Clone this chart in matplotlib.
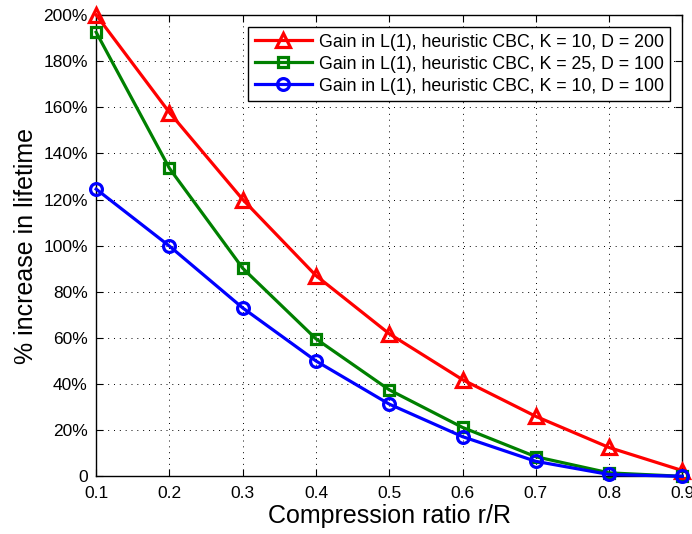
import matplotlib
matplotlib.use("Agg")
import matplotlib.pyplot as plt
from matplotlib.ticker import FuncFormatter

ratio = [0.1, 0.2, 0.3, 0.4, 0.5, 0.6, 0.7, 0.8, 0.9]
gain_k10_d200 = [200, 157.7, 120, 87, 61.8, 41.9, 26, 12.5, 2.5]
gain_k25_d100 = [192.5, 133.5, 90.2, 59.6, 37.5, 21.2, 8.5, 1.5, 0]
gain_k10_d100 = [124.5, 99.8, 73, 50, 31.3, 17.2, 6.5, 0.8, 0]

labels = ["Gain in L(1), heuristic CBC, K = 10, D = 200",
          "Gain in L(1), heuristic CBC, K = 25, D = 100",
          "Gain in L(1), heuristic CBC, K = 10, D = 100"]

plt.rcParams['font.family'] = ['Liberation Sans', 'DejaVu Sans']

fig = plt.figure(figsize=(6.92, 5.34), dpi=100)
ax = fig.add_axes([0.139, 0.108, 0.847, 0.864])

ax.plot(ratio, gain_k10_d200, color='red', lw=2.3, marker='^', ms=10,
        mfc='none', mec='red', mew=2.3, label=labels[0], clip_on=False, zorder=5)
ax.plot(ratio, gain_k25_d100, color='green', lw=2.3, marker='s', ms=7,
        mfc='none', mec='green', mew=2.3, label=labels[1], clip_on=False, zorder=5)
ax.plot(ratio, gain_k10_d100, color='blue', lw=2.3, marker='o', ms=8.5,
        mfc='none', mec='blue', mew=2.3, label=labels[2], clip_on=False, zorder=5)

ax.set_xlim(0.1, 0.9)
ax.set_ylim(0, 200)
ax.set_xticks(ratio)
ax.set_yticks(range(0, 201, 20))
ax.yaxis.set_major_formatter(FuncFormatter(lambda v, p: "0" if v == 0 else f"{int(v)}%"))
ax.tick_params(direction='in', top=True, right=True, labelsize=12.5, length=5)
ax.tick_params(axis='x', pad=7)
ax.tick_params(axis='y', pad=6)
ax.grid(True, color='black', linestyle=(0, (1, 5)), linewidth=0.7)
for s in ax.spines.values():
    s.set_linewidth(1.0)

ax.set_xlabel("Compression ratio r/R", fontsize=18, labelpad=2)
ax.set_ylabel("% increase in lifetime", fontsize=18, labelpad=4)

leg = ax.legend(loc='upper right', fontsize=12.8, handlelength=3.2, fancybox=False,
                framealpha=1, edgecolor='black', borderpad=0.35, labelspacing=0.28,
                handletextpad=0.4, borderaxespad=0.7)
leg.get_frame().set_linewidth(1.0)

fig.savefig("out.png", dpi=100)
